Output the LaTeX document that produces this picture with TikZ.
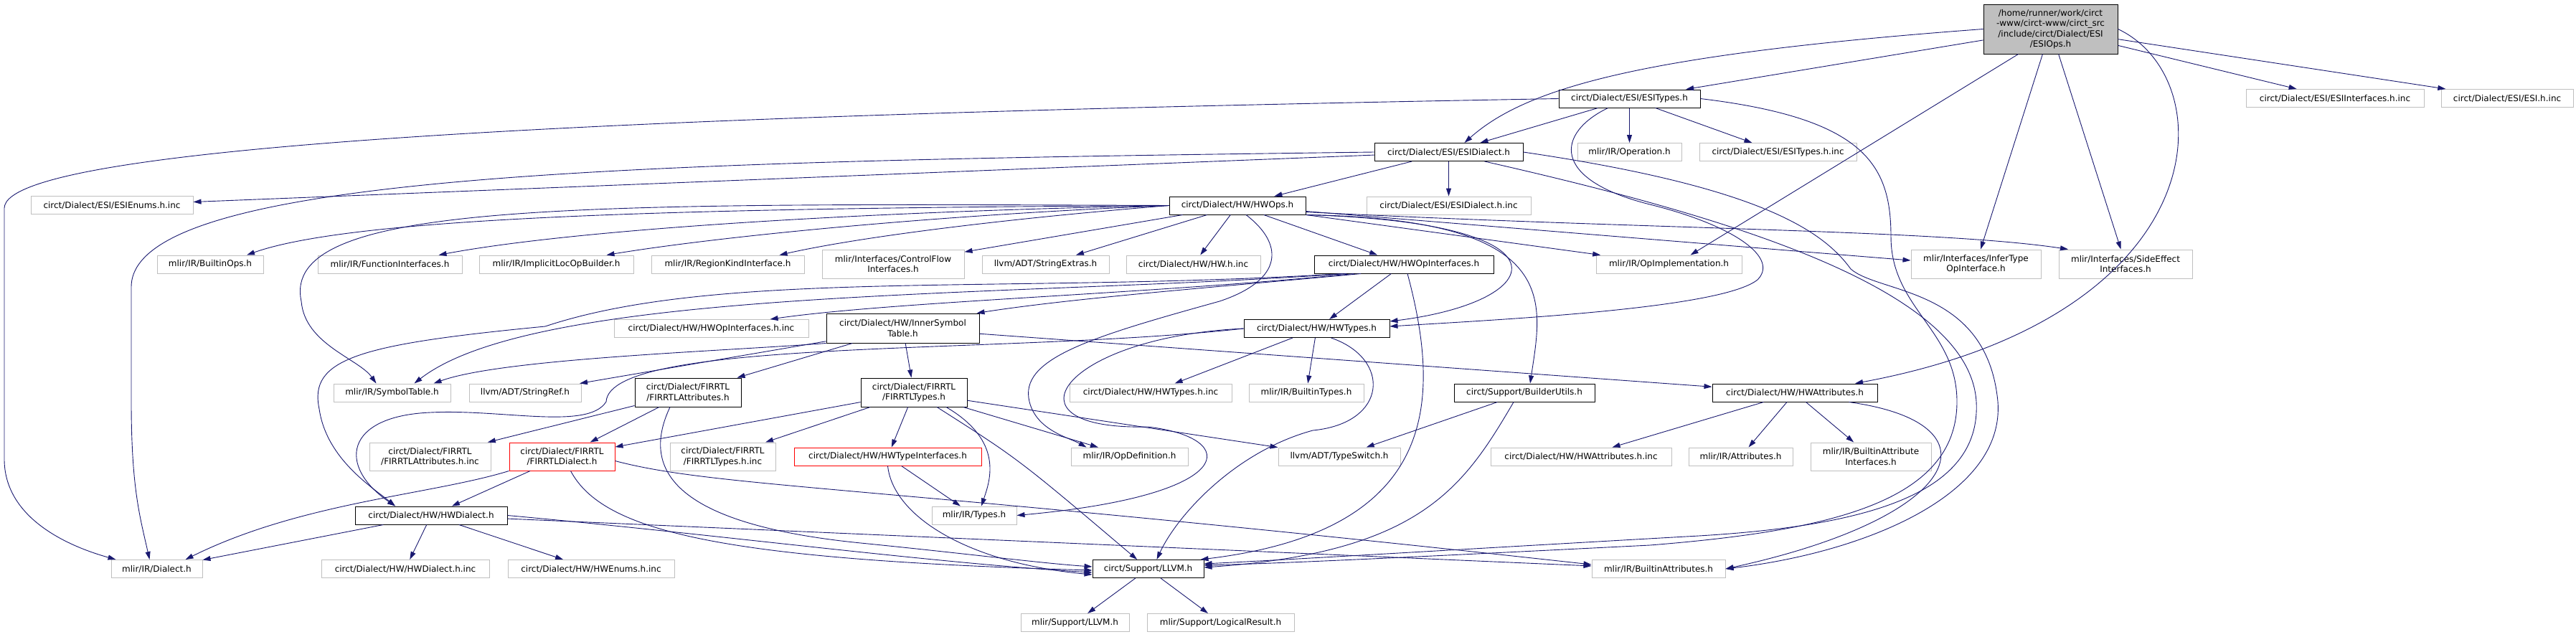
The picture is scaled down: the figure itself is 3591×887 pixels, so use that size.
\documentclass[tikz,border=0pt]{standalone}
\usepackage{fontspec}
\setmainfont{DejaVu Sans}
\usepackage{xcolor}
\definecolor{cEdge}{HTML}{191970}
\definecolor{cLine}{HTML}{BFBFBF}
\definecolor{cRoot}{HTML}{BFBFBF}
\usetikzlibrary{arrows.meta}
\newcommand{\gfont}{\fontsize{12}{14.5}\selectfont}
\tikzset{
  box/.style   = {rectangle, inner sep=2pt, font=\gfont, align=center,
                  minimum height=25pt, line width=1pt, fill=white},
  doc/.style   = {box, draw=black, minimum width=#1pt},
  ext/.style   = {box, draw=cLine, minimum width=#1pt},
  trunc/.style = {box, draw=red, minimum width=#1pt},
  rootblk/.style = {box, draw=black, fill=cRoot, minimum width=#1pt},
  tall/.style  = {minimum height=#1pt},
  arr/.style   = {-{Triangle[length=11pt,width=7pt]}, draw=cEdge, line width=0.9pt},
}

\begin{document}
\begin{tikzpicture}[x=1pt, y=-1pt]
  \useasboundingbox (0,0) rectangle (3591,887);

  %% Root
  \node[rootblk=187, tall=69] (root) at (2858.5,40.5)
        {/home/runner/work/circt\\-www/circt-www/circt\_src\\/include/circt/Dialect/ESI\\/ESIOps.h};

  %% ESI headers
  \node[doc=197] (esitp)    at (2271.5,137.5) {circt/Dialect/ESI/ESITypes.h};
  \node[ext=248] (esiif)    at (3255,137)     {circt/Dialect/ESI/ESIInterfaces.h.inc};
  \node[ext=184] (esiinc)   at (3495,137)     {circt/Dialect/ESI/ESI.h.inc};
  \node[doc=207] (esidl)    at (2019.5,212)   {circt/Dialect/ESI/ESIDialect.h};
  \node[ext=145] (oper)     at (2271.5,212)   {mlir/IR/Operation.h};
  \node[ext=219] (esitpinc) at (2478.5,212)   {circt/Dialect/ESI/ESITypes.h.inc};
  \node[ext=226] (esienum)  at (156,286)      {circt/Dialect/ESI/ESIEnums.h.inc};
  \node[doc=190] (hwops)    at (1725,286.5)   {circt/Dialect/HW/HWOps.h};
  \node[ext=229] (esidlinc) at (2019.5,286.5) {circt/Dialect/ESI/ESIDialect.h.inc};

  %% HWOps includes
  \node[ext=148] (bops)   at (293,368.5)    {mlir/IR/BuiltinOps.h};
  \node[ext=201] (funif)  at (543.5,368.5)  {mlir/IR/FunctionInterfaces.h};
  \node[ext=215] (implb)  at (775.5,368.5)  {mlir/IR/ImplicitLocOpBuilder.h};
  \node[ext=213] (rkind)  at (1014.5,368.5) {mlir/IR/RegionKindInterface.h};
  \node[ext=198, tall=40] (cflow) at (1245,368) {mlir/Interfaces/ControlFlow\\Interfaces.h};
  \node[ext=177] (strx)   at (1457.5,368.5) {llvm/ADT/StringExtras.h};
  \node[ext=187] (hwinc)  at (1663.5,368.5) {circt/Dialect/HW/HW.h.inc};
  \node[doc=250] (hwoi)   at (1957,368.5)   {circt/Dialect/HW/HWOpInterfaces.h};
  \node[ext=203] (opimpl) at (2326.5,368.5) {mlir/IR/OpImplementation.h};
  \node[ext=181, tall=40] (infer)  at (2754.5,368) {mlir/Interfaces/InferType\\OpInterface.h};
  \node[ext=186, tall=40] (sidefx) at (2963,368)   {mlir/Interfaces/SideEffect\\Interfaces.h};

  %% Middle rows
  \node[doc=213, tall=41] (innersym) at (1258.5,457.5) {circt/Dialect/HW/InnerSymbol\\Table.h};
  \node[ext=271] (hwoiinc) at (991.5,458)  {circt/Dialect/HW/HWOpInterfaces.h.inc};
  \node[doc=203] (hwtypes) at (1835.5,458) {circt/Dialect/HW/HWTypes.h};

  \node[ext=163] (symtab)  at (546.5,547.5) {mlir/IR/SymbolTable.h};
  \node[ext=156] (strref)  at (732,547.5)   {llvm/ADT/StringRef.h};
  \node[doc=148, tall=40] (firattr)  at (959,547)  {circt/Dialect/FIRRTL\\/FIRRTLAttributes.h};
  \node[doc=148, tall=40] (firtypes) at (1274,547) {circt/Dialect/FIRRTL\\/FIRRTLTypes.h};
  \node[ext=226] (hwtpinc) at (1604,547.5)  {circt/Dialect/HW/HWTypes.h.inc};
  \node[ext=160] (btypes)  at (1821,547.5)  {mlir/IR/BuiltinTypes.h};
  \node[doc=196] (bldutil) at (2125,547.5)  {circt/Support/BuilderUtils.h};
  \node[doc=230] (hwattr)  at (2502,547.5)  {circt/Dialect/HW/HWAttributes.h};

  \node[ext=169, tall=39]   (firattrinc) at (599.5,636.5)  {circt/Dialect/FIRRTL\\/FIRRTLAttributes.h.inc};
  \node[trunc=147, tall=39] (firdl)      at (783.5,636.5)  {circt/Dialect/FIRRTL\\/FIRRTLDialect.h};
  \node[ext=147, tall=39]   (firtpinc)   at (1007.5,636.5) {circt/Dialect/FIRRTL\\/FIRRTLTypes.h.inc};
  \node[trunc=261] (hwtif)     at (1237.5,636.5) {circt/Dialect/HW/HWTypeInterfaces.h};
  \node[ext=163]   (opdef)     at (1574.5,636.5) {mlir/IR/OpDefinition.h};
  \node[ext=170]   (tswitch)   at (1867,636.5)   {llvm/ADT/TypeSwitch.h};
  \node[ext=252]   (hwattrinc) at (2204,636.5)   {circt/Dialect/HW/HWAttributes.h.inc};
  \node[ext=145]   (attrs)     at (2426.5,636.5) {mlir/IR/Attributes.h};
  \node[ext=168, tall=39] (battrif) at (2608,636.5) {mlir/IR/BuiltinAttribute\\Interfaces.h};

  %% Bottom rows
  \node[doc=212] (hwdl)    at (601,718.5)  {circt/Dialect/HW/HWDialect.h};
  \node[ext=118] (types)   at (1358,718.5) {mlir/IR/Types.h};
  \node[ext=127] (dialect) at (218.5,793)  {mlir/IR/Dialect.h};
  \node[ext=234] (hwdlinc) at (565,793)    {circt/Dialect/HW/HWDialect.h.inc};
  \node[ext=232] (hwenum)  at (824,793)    {circt/Dialect/HW/HWEnums.h.inc};
  \node[doc=155] (llvm)    at (1600.5,793) {circt/Support/LLVM.h};
  \node[ext=186] (battr)   at (2312,793)   {mlir/IR/BuiltinAttributes.h};
  \node[ext=151] (mllvm)   at (1498.5,868) {mlir/Support/LLVM.h};
  \node[ext=205] (logres)  at (1701.5,868) {mlir/Support/LogicalResult.h};

  %% Arrows from the root
  \draw[arr] (root) -- (esitp);
  \draw[arr] (root.west) .. controls (2300,75) and (2130,120) .. ([xshift=22pt]esidl.north);
  \draw[arr] (root) -- (esiif);
  \draw[arr] (root) -- (esiinc);
  \draw[arr] ([xshift=-45pt]root.south) -- ([xshift=30pt]opimpl.north);
  \draw[arr] (root) -- (infer);
  \draw[arr] (root) -- (sidefx);
  \draw[arr] (root.east) .. controls (3100,110) and (3095,440) .. ([xshift=84pt]hwattr.north);

  %% ESITypes.h
  \draw[arr] (esitp) -- (esidl);
  \draw[arr] (esitp) -- (oper);
  \draw[arr] (esitp) -- (esitpinc);
  \draw[arr] (esitp.west) .. controls (900,160) and (8,200) .. (6,290) -- (6,640)
             .. controls (6,720) and (90,760) .. ([xshift=-57pt]dialect.north);
  \draw[arr] ([xshift=-30pt]esitp.south) .. controls (2170,185) and (2160,250) .. (2300,285)
             .. controls (2420,315) and (2480,360) .. (2450,390)
             .. controls (2400,430) and (2100,445) .. ([yshift=3pt]hwtypes.east);
  \draw[arr] (esitp.east) .. controls (2600,165) and (2636,230) .. (2636,330)
             .. controls (2636,430) and (2728,460) .. (2728,560)
             .. controls (2728,700) and (2550,740) .. (2300,760)
             .. controls (2000,775) and (1800,785) .. ([yshift=5pt]llvm.east);

  %% ESIDialect.h
  \draw[arr] (esidl) -- (hwops);
  \draw[arr] (esidl) -- (esidlinc);
  \draw[arr] (esidl) -- (esienum);
  \draw[arr] (esidl.west) .. controls (900,225) and (183,240) .. (183,400) -- (183,560)
             .. controls (183,680) and (195,720) .. ([xshift=-10pt]dialect.north);
  \draw[arr] ([xshift=50pt]esidl.south) .. controls (2400,300) and (2745,400) .. (2755,560)
             .. controls (2762,690) and (2600,735) .. (2350,748)
             .. controls (2050,765) and (1800,780) .. ([yshift=7pt]llvm.east);
  \draw[arr] (esidl.east) .. controls (2450,260) and (2540,320) .. (2580,375)
             .. controls (2620,410) and (2770,400) .. (2785,560)
             .. controls (2795,690) and (2600,770) .. (battr.east);

  %% HWOps.h
  \draw[arr] (hwops.west) .. controls (1000,290) and (500,300) .. ([xshift=51pt]bops.north);
  \draw[arr] (hwops.west) .. controls (1200,295) and (800,320) .. ([xshift=68pt]funif.north);
  \draw[arr] (hwops.west) .. controls (1300,300) and (1000,330) .. ([xshift=70pt]implb.north);
  \draw[arr] (hwops.west) .. controls (1400,305) and (1200,330) .. ([xshift=72pt]rkind.north);
  \draw[arr] (hwops.west) .. controls (800,283) and (390,280) .. (420,420)
             .. controls (425,480) and (500,500) .. ([xshift=-22pt]symtab.north);
  \draw[arr] (hwops) -- (cflow);
  \draw[arr] (hwops) -- (strx);
  \draw[arr] (hwops) -- (hwinc);
  \draw[arr] (hwops) -- (hwoi);
  \draw[arr] (hwops) -- (opimpl);
  \draw[arr] ([yshift=-8pt]hwops.east) -- ([yshift=5pt]infer.west);
  \draw[arr] ([yshift=-9pt]hwops.east) .. controls (2300,320) and (2700,320) .. ([xshift=-80pt]sidefx.north);
  \draw[arr] (hwops.south east) .. controls (2200,310) and (2160,420) .. ([yshift=10pt]hwtypes.east);
  \draw[arr] (hwops.south east) .. controls (2180,305) and (2150,420) .. ([xshift=8pt]bldutil.north);
  \draw[arr] ([xshift=12pt]hwops.south) .. controls (1790,340) and (1790,390) .. (1700,420)
             .. controls (1520,470) and (1420,500) .. (1435,560)
             .. controls (1445,600) and (1490,610) .. ([xshift=-60pt]opdef.north);

  %% HWOpInterfaces.h
  \draw[arr] (hwoi) -- (hwtypes);
  \draw[arr] ([xshift=-60pt]hwoi.south) .. controls (1700,400) and (1500,415) .. ([xshift=-4pt]innersym.north east);
  \draw[arr] ([xshift=-70pt]hwoi.south) .. controls (1600,410) and (1250,420) .. ([xshift=82pt]hwoiinc.north);
  \draw[arr] ([xshift=-80pt]hwoi.south) .. controls (1400,415) and (750,400) .. ([xshift=31pt]symtab.north);
  \draw[arr] ([xshift=-85pt]hwoi.south) .. controls (1400,410) and (1000,375) .. (760,455)
             .. controls (500,480) and (430,500) .. (445,570)
             .. controls (455,640) and (520,680) .. ([xshift=-50pt]hwdl.north);
  \draw[arr] ([xshift=5pt]hwoi.south) .. controls (2010,560) and (2005,740) .. ([xshift=73pt]llvm.north);

  %% InnerSymbolTable.h
  \draw[arr] (innersym.south west) .. controls (1000,490) and (700,500) .. ([xshift=58pt]symtab.north);
  \draw[arr] (innersym) -- (strref);
  \draw[arr] (innersym) -- (firattr);
  \draw[arr] (innersym) -- (firtypes);
  \draw[arr] (innersym) -- (hwattr);

  %% HWTypes.h
  \draw[arr] (hwtypes) -- (hwtpinc);
  \draw[arr] (hwtypes) -- (btypes);
  \draw[arr] (hwtypes.west) .. controls (1400,495) and (850,470) .. (845,560)
             .. controls (820,600) and (700,570) .. (600,575)
             .. controls (480,580) and (470,650) .. ([xshift=-50pt]hwdl.north);
  \draw[arr] (hwtypes.west) .. controls (1480,470) and (1390,600) .. (1600,595)
             .. controls (1730,610) and (1730,690) .. (types.east);
  \draw[arr] ([xshift=20pt]hwtypes.south) .. controls (1940,500) and (1935,590) .. (1830,600)
             .. controls (1720,630) and (1640,720) .. ([xshift=12pt]llvm.north);

  %% FIRRTL headers
  \draw[arr] (firattr) -- (firattrinc);
  \draw[arr] (firattr) -- (firdl);
  \draw[arr] ([xshift=-25pt]firattr.south) .. controls (895,650) and (930,730) .. (1200,757)
             .. controls (1350,772) and (1450,785) .. ([yshift=3pt]llvm.west);
  \draw[arr] (firtypes) -- (firdl);
  \draw[arr] (firtypes) -- (firtpinc);
  \draw[arr] (firtypes) -- (hwtif);
  \draw[arr] (firtypes) -- (opdef);
  \draw[arr] (firtypes) -- (tswitch);
  \draw[arr] ([xshift=45pt]firtypes.south) .. controls (1400,615) and (1380,670) .. ([xshift=10pt]types.north);
  \draw[arr] (firtypes) .. controls (1420,640) .. (llvm);
  \draw[arr] (firdl) -- (hwdl);
  \draw[arr] (firdl.south west) .. controls (600,690) and (420,700) .. ([xshift=40pt]dialect.north);
  \draw[arr] ([xshift=12pt]firdl.south) .. controls (840,740) and (1000,780) .. ([yshift=-2pt]llvm.west);
  \draw[arr] ([yshift=-6pt]firdl.east) .. controls (1000,680) and (1200,675) .. ([yshift=6pt]battr.west);

  %% HWDialect.h and the rest
  \draw[arr] (hwdl) -- (dialect);
  \draw[arr] (hwdl) -- (hwdlinc);
  \draw[arr] (hwdl) -- (hwenum);
  \draw[arr] (hwdl.east) .. controls (1000,745) and (1300,785) .. ([yshift=-5pt]llvm.west);
  \draw[arr] (hwdl) -- (battr);
  \draw[arr] (hwtif) -- (types);
  \draw[arr] (hwtif.south) .. controls (1245,720) and (1350,785) .. ([yshift=-8pt]llvm.west);
  \draw[arr] (bldutil) -- (tswitch);
  \draw[arr] ([xshift=-15pt]bldutil.south) .. controls (2040,680) and (1980,770) .. ([yshift=2pt]llvm.east);
  \draw[arr] (hwattr) -- (hwattrinc);
  \draw[arr] (hwattr) -- (attrs);
  \draw[arr] (hwattr) -- (battrif);
  \draw[arr] ([xshift=-40pt]hwattr.south east) .. controls (2790,590) and (2740,720) .. (battr.east);
  \draw[arr] (llvm) -- (mllvm);
  \draw[arr] (llvm) -- (logres);

\end{tikzpicture}
\end{document}
